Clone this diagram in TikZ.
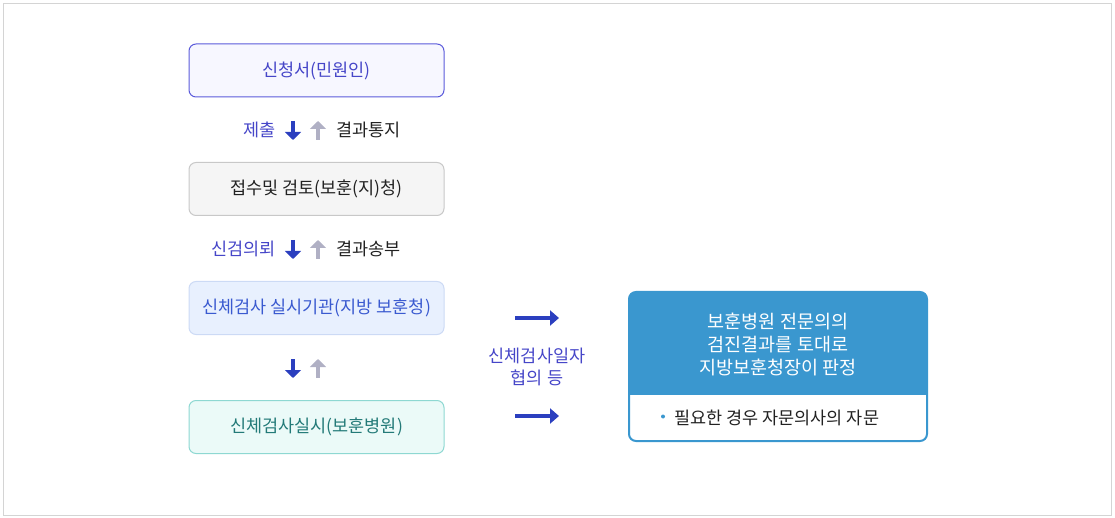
\documentclass[tikz,border=0pt]{standalone}
\usepackage{fontspec}
\setmainfont{Noto Sans CJK KR}
\usetikzlibrary{arrows.meta}
\definecolor{frame}{HTML}{D4D4D4}
\definecolor{violetB}{HTML}{5B5BDB}
\definecolor{violetF}{HTML}{F7F7FF}
\definecolor{violetT}{HTML}{4646C8}
\definecolor{greyB}{HTML}{C8C8C8}
\definecolor{greyF}{HTML}{F5F5F5}
\definecolor{darkT}{HTML}{222222}
\definecolor{blueB}{HTML}{CCDAF5}
\definecolor{blueF}{HTML}{E8F0FE}
\definecolor{blueT}{HTML}{3A5AD0}
\definecolor{tealB}{HTML}{8ED8D2}
\definecolor{tealF}{HTML}{EBFAF8}
\definecolor{tealT}{HTML}{237A78}
\definecolor{arrowD}{HTML}{2B3FBF}
\definecolor{arrowU}{HTML}{B0B0C4}
\definecolor{judgeC}{HTML}{3A97CF}
\tikzset{
  stepbox/.style={rounded corners=7pt, minimum width=255pt, minimum height=53pt, line width=1pt, inner sep=0pt, font=\fontsize{17.5}{21}\selectfont},
  lbl/.style={font=\fontsize{17.5}{21}\selectfont, inner sep=0pt},
  downarr/.style={draw=arrowD, line width=4pt, -{Triangle[length=8pt,width=16pt]}},
  uparr/.style={draw=arrowU, line width=4pt, -{Triangle[length=8pt,width=16pt]}},
  rightarr/.style={draw=arrowD, line width=3.5pt, -{Triangle[length=9pt,width=15pt]}},
}
\begin{document}
\begin{tikzpicture}[x=1pt,y=-1pt]
\useasboundingbox (0,0) rectangle (1115,518);
\draw[frame, line width=1pt] (3.5,3.5) rectangle (1111.5,515);

% left column
\node[stepbox, draw=violetB, fill=violetF, text=violetT] (apply) at (316.5,70.5) {신청서(민원인)};
\node[stepbox, draw=greyB, fill=greyF, text=darkT] (review) at (316.5,189) {접수및 검토(보훈(지)청)};
\node[stepbox, draw=blueB, fill=blueF, text=blueT] (inst) at (316.5,308) {신체검사 실시기관(지방 보훈청)};
\node[stepbox, draw=tealB, fill=tealF, text=tealT] (exam) at (316.5,427) {신체검사실시(보훈병원)};

% row 1
\node[lbl, text=violetT, anchor=east] (submit) at (276,130) {제출};
\coordinate (d1s) at (293,121); \coordinate (d1e) at (293,140);
\coordinate (u1s) at (318,140); \coordinate (u1e) at (318,121);
\draw[downarr] (d1s) -- (d1e);
\draw[uparr] (u1s) -- (u1e);
\node[lbl, text=darkT, anchor=west] (notice) at (336,130) {결과통지};

% row 2
\node[lbl, text=violetT, anchor=east] (request) at (276,249) {신검의뢰};
\coordinate (d2s) at (293,240); \coordinate (d2e) at (293,259);
\coordinate (u2s) at (318,259); \coordinate (u2e) at (318,240);
\draw[downarr] (d2s) -- (d2e);
\draw[uparr] (u2s) -- (u2e);
\node[lbl, text=darkT, anchor=west] (send) at (336,249) {결과송부};

% row 3
\coordinate (d3s) at (293,359); \coordinate (d3e) at (293,378);
\coordinate (u3s) at (318,378); \coordinate (u3e) at (318,359);
\draw[downarr] (d3s) -- (d3e);
\draw[uparr] (u3s) -- (u3e);

% middle
\coordinate (r1s) at (515,318); \coordinate (r1e) at (559,318);
\coordinate (r2s) at (515,416); \coordinate (r2e) at (559,416);
\draw[rightarr] (r1s) -- (r1e);
\draw[rightarr] (r2s) -- (r2e);
\node[lbl, text=violetT, align=center, font=\fontsize{17.5}{22}\selectfont] (agree) at (537,367) {신체검사일자\\협의 등};

% judge box
\begin{scope}
\clip[rounded corners=7pt] (629,292) rectangle (927,441);
\fill[judgeC] (629,292) rectangle (927,395);
\end{scope}
\node[draw=judgeC, line width=2pt, rounded corners=7pt, minimum width=298pt, minimum height=149pt, inner sep=0pt] (judge) at (778,366.5) {};
\node[lbl, text=white, align=center, font=\fontsize{18.5}{23}\selectfont] (judgeT) at (778,344) {보훈병원 전문의의\\검진결과를 토대로\\지방보훈청장이 판정};
\node[circle, fill=judgeC, inner sep=0pt, minimum size=4pt] (bullet) at (663,416.5) {};
\node[lbl, text=darkT, anchor=west] (advice) at (674,418) {필요한 경우 자문의사의 자문};
\end{tikzpicture}
\end{document}
